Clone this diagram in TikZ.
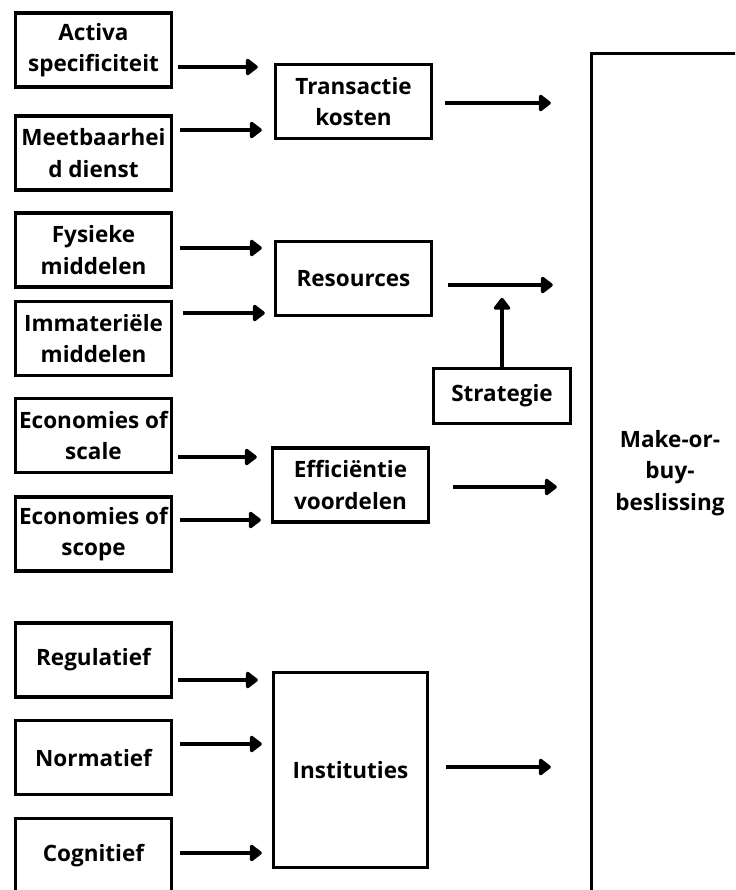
\documentclass[tikz,border=0pt]{standalone}
\usepackage{fontspec}
\setmainfont{Open Sans}
\usetikzlibrary{arrows.meta,calc}
\begin{document}
\begin{tikzpicture}[x=1pt,y=-1pt,
  box/.style={draw=black,line width=3.3pt,rectangle,align=center,inner sep=0pt,
    font=\bfseries\fontsize{22.5}{31.5}\selectfont,text=black},
  lbox/.style={box,minimum width=156pt,minimum height=74pt},
  mbox/.style={box,minimum width=156pt,minimum height=74pt},
  arr/.style={line width=4pt,-{Triangle[length=13pt,width=19pt,round]}}]
\useasboundingbox (0,0) rectangle (735,890);
\clip (0,0) rectangle (735,890);
% left column
\node[lbox] (activa) at (93.5,50) {Activa\\specificiteit};
\node[lbox] (meet) at (93.5,153) {Meetbaarhei\\d dienst};
\node[lbox] (fys) at (93.5,250) {Fysieke\\middelen};
\node[lbox] (imm) at (93.5,338.5) {Immateriële\\middelen};
\node[lbox] (scale) at (93.5,435.5) {Economies of\\scale};
\node[lbox] (scope) at (93.5,534) {Economies of\\scope};
\node[lbox] (reg) at (93.5,660) {Regulatief};
\node[lbox] (norm) at (93.5,757.5) {Normatief};
\node[lbox] (cog) at (93.5,855.5) {Cognitief};
% middle column
\node[mbox] (trans) at (353.5,101.5) {Transactie\\kosten};
\node[mbox] (res) at (353.5,278.5) {Resources};
\node[mbox] (eff) at (350.5,485) {Efficiëntie\\voordelen};
\node[box,minimum width=154pt,minimum height=195pt] (inst) at (350.5,770) {Instituties};
\node[box,minimum width=137pt,minimum height=55pt] (strat) at (502,396) {Strategie};
% right box
\node[box,minimum width=157pt,minimum height=839pt] (make) at (670,473) {Make-or-\\buy-\\beslissing};
% arrows into middle column
\draw[arr] ($(activa.east)+(5,17)$) coordinate (t1) -- ($(trans.west |- t1)+(-16,0)$);
\draw[arr] ($(meet.east)+(7,-23)$) coordinate (t2) -- ($(trans.west |- t2)+(-12,0)$);
\draw[arr] ($(fys.east)+(7,-2)$) coordinate (t3) -- ($(res.west |- t3)+(-12,0)$);
\draw[arr] ($(imm.east)+(10,-25.5)$) coordinate (t4) -- ($(res.west |- t4)+(-9,0)$);
\draw[arr] ($(scale.east)+(5,21.5)$) coordinate (t5) -- ($(eff.west |- t5)+(-14,0)$);
\draw[arr] ($(scope.east)+(7,-14)$) coordinate (t6) -- ($(eff.west |- t6)+(-10,0)$);
\draw[arr] ($(reg.east)+(5,20)$) coordinate (t7) -- ($(inst.west |- t7)+(-14,0)$);
\draw[arr] ($(norm.east)+(7,-13.5)$) coordinate (t8) -- ($(inst.west |- t8)+(-10,0)$);
\draw[arr] ($(cog.east)+(7,-2.5)$) coordinate (t9) -- ($(inst.west |- t9)+(-10,0)$);
% arrows into make
\draw[arr] ($(trans.east)+(12,1.5)$) coordinate (m1) -- ($(make.west |- m1)+(-39,0)$);
\draw[arr] ($(res.east)+(15,6.5)$) coordinate (m2) -- ($(make.west |- m2)+(-37,0)$);
\draw[arr] ($(eff.east)+(23,2)$) coordinate (m3) -- ($(make.west |- m3)+(-33,0)$);
\draw[arr] ($(inst.east)+(17,-3)$) coordinate (m4) -- ($(make.west |- m4)+(-39,0)$);
% strategie up
\draw[arr] (strat.north) -- ($(strat.north)+(0,-69)$);
\end{tikzpicture}
\end{document}
